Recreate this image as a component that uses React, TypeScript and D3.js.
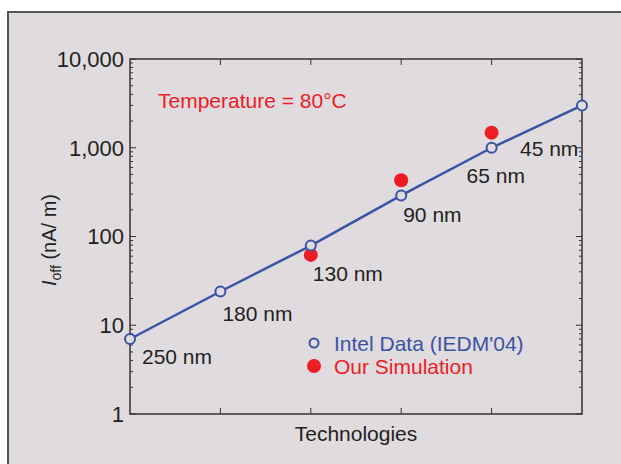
import React, { useEffect, useRef } from "react";
import * as d3 from "d3";

// node names along the x axis
const techs = ["250 nm", "180 nm", "130 nm", "90 nm", "65 nm", "45 nm"];
// Intel data (IEDM'04), Ioff in nA/um
const intelData = [7, 24, 79, 290, 1000, 3000];
// our simulation, only for three nodes
const simTechs = ["130 nm", "90 nm", "65 nm"];
const simData = [62, 430, 1480];
const yTicks = [1, 10, 100, 1000, 10000];

// where each node label sits relative to its point (layout only)
const labelOffsets = [
  [12, 25.5],
  [2, 29.5],
  [2, 35.5],
  [2, 26.5],
  [-25, 35.5],
  [-62, 50.5],
];

const BLUE = "#3a53a4";
const RED = "#ee1c25";
const INK = "#231f20";
const FONT = "'Liberation Sans', Arial, Helvetica, sans-serif";
const FS = 21;

function App() {
  const ref = useRef<SVGSVGElement>(null);

  useEffect(() => {
    const width = 621,
      height = 464;
    const margin = { top: 59, right: 39, bottom: 50, left: 130 };
    const innerW = width - margin.left - margin.right;
    const innerH = height - margin.top - margin.bottom;

    const svg = d3.select(ref.current);
    svg.selectAll("*").remove();

    // grey panel with a dark border on top / left
    svg.append("rect").attr("width", width).attr("height", height).attr("fill", "#ffffff");
    svg
      .append("rect")
      .attr("x", 8)
      .attr("y", 12)
      .attr("width", width)
      .attr("height", height)
      .attr("fill", "#dfdbdf")
      .attr("stroke", "#555")
      .attr("stroke-width", 2);

    const g = svg.append("g").attr("transform", `translate(${margin.left},${margin.top})`);

    const x = d3.scalePoint().domain(techs).range([0, innerW]);
    const y = d3.scaleLog().domain([1, 10000]).range([innerH, 0]);

    // frame
    g.append("rect")
      .attr("width", innerW)
      .attr("height", innerH)
      .attr("fill", "none")
      .attr("stroke", "#333")
      .attr("stroke-width", 1.5);

    // minor log ticks on left and right, inward
    const minor: number[] = [];
    for (let d = 1; d < 10000; d *= 10) for (let k = 2; k <= 9; k++) minor.push(d * k);
    g.selectAll(".minL")
      .data(minor)
      .join("line")
      .attr("x1", 0)
      .attr("x2", 3)
      .attr("y1", (d) => y(d))
      .attr("y2", (d) => y(d))
      .attr("stroke", "#333");
    g.selectAll(".minR")
      .data(minor)
      .join("line")
      .attr("x1", innerW)
      .attr("x2", innerW - 3)
      .attr("y1", (d) => y(d))
      .attr("y2", (d) => y(d))
      .attr("stroke", "#333");
    // major y ticks
    g.selectAll(".majL")
      .data(yTicks)
      .join("line")
      .attr("x1", 0)
      .attr("x2", 6)
      .attr("y1", (d) => y(d))
      .attr("y2", (d) => y(d))
      .attr("stroke", "#333");
    g.selectAll(".majR")
      .data(yTicks)
      .join("line")
      .attr("x1", innerW)
      .attr("x2", innerW - 6)
      .attr("y1", (d) => y(d))
      .attr("y2", (d) => y(d))
      .attr("stroke", "#333");

    // x ticks top and bottom, inward
    const inner = techs.slice(1, -1);
    g.selectAll(".xb")
      .data(inner)
      .join("line")
      .attr("x1", (d) => x(d)!)
      .attr("x2", (d) => x(d)!)
      .attr("y1", innerH)
      .attr("y2", innerH - 6)
      .attr("stroke", "#333");
    g.selectAll(".xt")
      .data(inner)
      .join("line")
      .attr("x1", (d) => x(d)!)
      .attr("x2", (d) => x(d)!)
      .attr("y1", 0)
      .attr("y2", 6)
      .attr("stroke", "#333");

    // y tick labels
    g.selectAll(".ylab")
      .data(yTicks)
      .join("text")
      .attr("x", -6)
      .attr("y", (d) => y(d))
      .attr("dy", "0.36em")
      .attr("text-anchor", "end")
      .attr("font-family", FONT)
      .attr("font-size", 22)
      .attr("fill", INK)
      .text((d) => d3.format(",")(d));

    // axis titles
    g.append("text")
      .attr("x", innerW / 2)
      .attr("y", innerH + 26.5)
      .attr("text-anchor", "middle")
      .attr("font-family", FONT)
      .attr("font-size", FS)
      .attr("fill", INK)
      .text("Technologies");

    const yl = svg
      .append("text")
      .attr("transform", `translate(56,${240}) rotate(-90)`)
      .attr("text-anchor", "middle")
      .attr("font-family", FONT)
      .attr("font-size", 20)
      .attr("fill", INK);
    yl.append("tspan").attr("font-style", "italic").text("I");
    yl.append("tspan").attr("font-size", 14).attr("dy", 5).text("off");
    yl.append("tspan").attr("dy", -5).text(" (nA/  m)");

    // Intel line + open circles
    const line = d3
      .line<number>()
      .x((d, i) => x(techs[i])!)
      .y((d) => y(d));
    g.append("path")
      .attr("d", line(intelData))
      .attr("fill", "none")
      .attr("stroke", BLUE)
      .attr("stroke-width", 2.5);

    // simulation dots
    g.selectAll(".sim")
      .data(simData)
      .join("circle")
      .attr("cx", (d, i) => x(simTechs[i])!)
      .attr("cy", (d) => y(d))
      .attr("r", 7)
      .attr("fill", RED);

    g.selectAll(".intel")
      .data(intelData)
      .join("circle")
      .attr("cx", (d, i) => x(techs[i])!)
      .attr("cy", (d) => y(d))
      .attr("r", 5)
      .attr("fill", "#dfdbdf")
      .attr("stroke", BLUE)
      .attr("stroke-width", 2);

    // node labels
    g.selectAll(".node")
      .data(intelData)
      .join("text")
      .attr("x", (d, i) => x(techs[i])! + labelOffsets[i][0])
      .attr("y", (d, i) => y(d) + labelOffsets[i][1])
      .attr("font-family", FONT)
      .attr("font-size", FS)
      .attr("fill", INK)
      .text((d, i) => techs[i]);

    // temperature note
    g.append("text")
      .attr("x", 28)
      .attr("y", 48.5)
      .attr("font-family", FONT)
      .attr("font-size", FS)
      .attr("fill", RED)
      .text("Temperature = 80\u00b0C");

    // legend
    const lg = g.append("g").attr("transform", `translate(${184},${284})`);
    lg.append("circle")
      .attr("cx", 0)
      .attr("cy", 0)
      .attr("r", 4.5)
      .attr("fill", "none")
      .attr("stroke", BLUE)
      .attr("stroke-width", 2);
    lg.append("text")
      .attr("x", 20)
      .attr("y", 0)
      .attr("dy", "0.36em")
      .attr("font-family", FONT)
      .attr("font-size", FS)
      .attr("fill", BLUE)
      .text("Intel Data (IEDM'04)");
    lg.append("circle").attr("cx", 0).attr("cy", 23).attr("r", 7).attr("fill", RED);
    lg.append("text")
      .attr("x", 20)
      .attr("y", 23)
      .attr("dy", "0.36em")
      .attr("font-family", FONT)
      .attr("font-size", FS)
      .attr("fill", RED)
      .text("Our Simulation");
  }, []);

  return (
    <div style={{ position: "absolute", left: 0, top: 0 }}>
      <svg ref={ref} width={621} height={464} style={{ display: "block" }} />
    </div>
  );
}

export default App;
